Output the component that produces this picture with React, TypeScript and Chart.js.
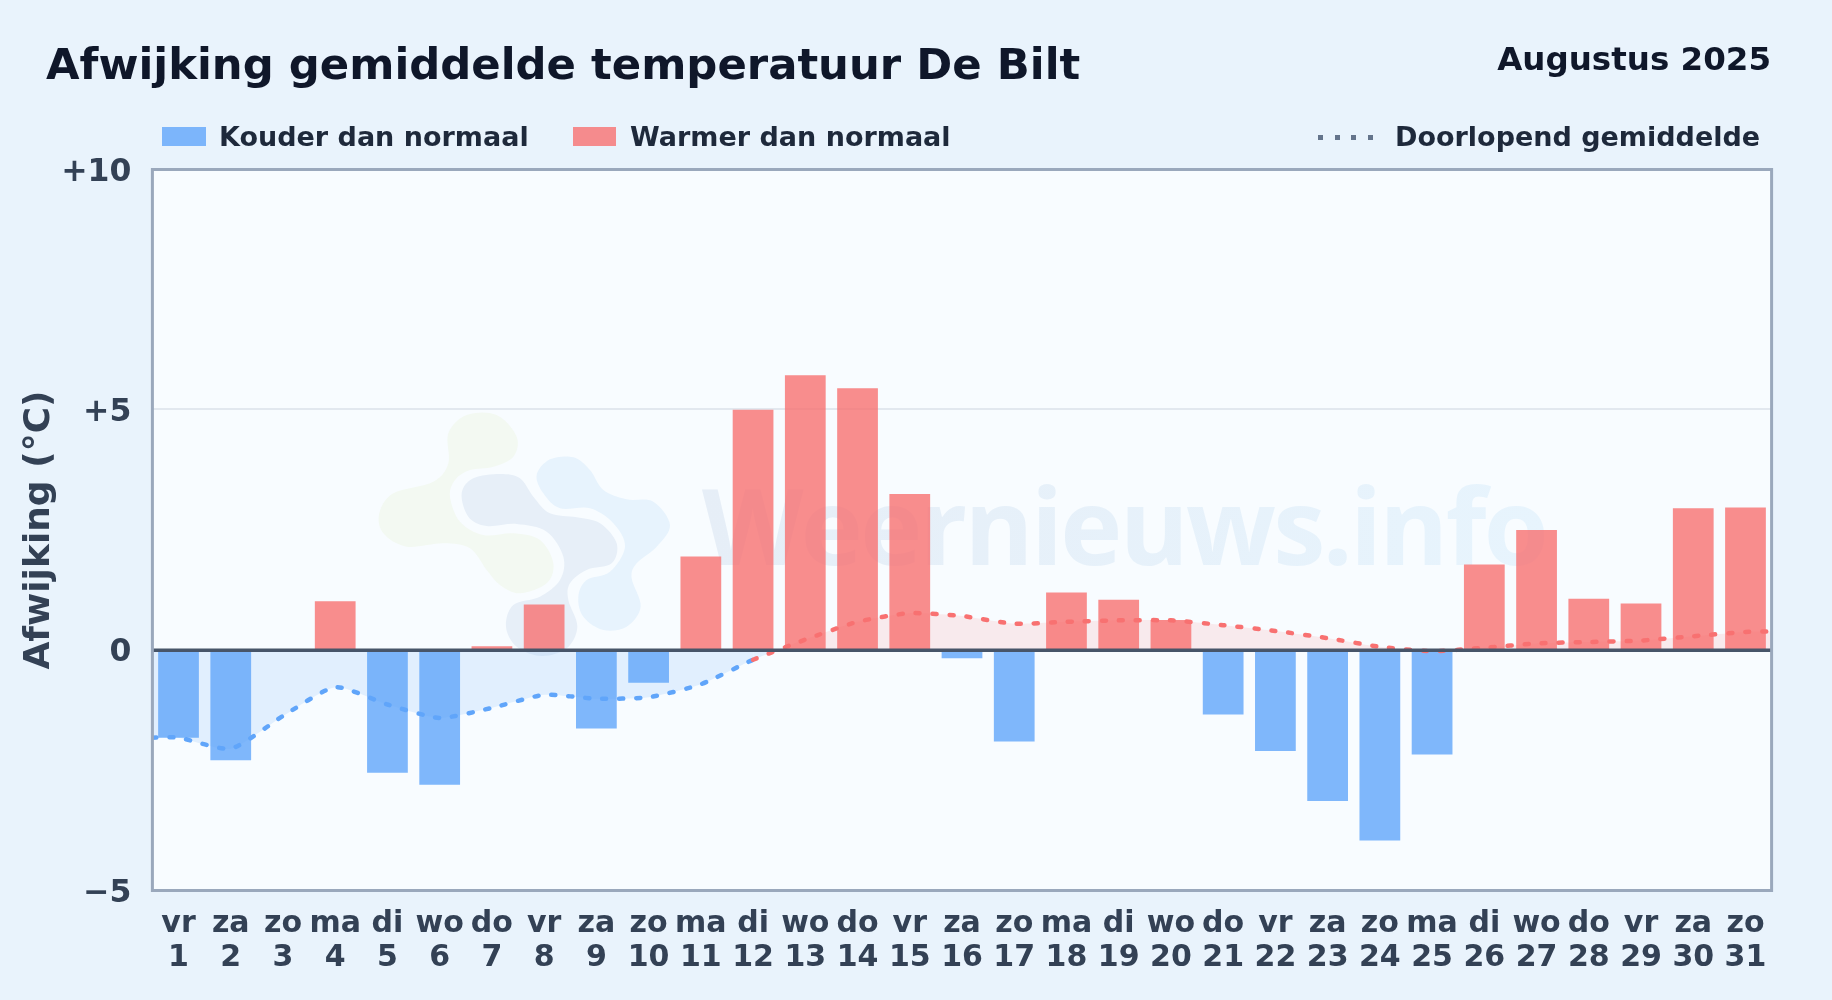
import React, { useEffect, useRef } from "react";
import { Chart, registerables } from "chart.js";

Chart.register(...registerables);

const TITLE = "Afwijking gemiddelde temperatuur De Bilt";
const MONTH = "Augustus 2025";
const COLD_LABEL = "Kouder dan normaal";
const WARM_LABEL = "Warmer dan normaal";
const MEAN_LABEL = "Doorlopend gemiddelde";
const Y_TITLE = "Afwijking (°C)";
const WATERMARK = "Weernieuws.info";

const weekdays = ["vr","za","zo","ma","di","wo","do","vr","za","zo","ma","di","wo","do","vr","za","zo","ma","di","wo","do","vr","za","zo","ma","di","wo","do","vr","za","zo"];
const days = ["1","2","3","4","5","6","7","8","9","10","11","12","13","14","15","16","17","18","19","20","21","22","23","24","25","26","27","28","29","30","31"];
const coldValues = [-1.82,-2.29,null,null,-2.55,-2.8,null,null,-1.63,-0.68,null,null,null,null,null,-0.17,-1.9,null,null,null,-1.34,-2.1,-3.14,-3.96,-2.17,null,null,null,null,null,null];
const warmValues = [null,null,0,1.02,null,null,0.08,0.95,null,null,1.95,5.0,5.72,5.45,3.25,null,null,1.2,1.05,0.63,null,null,null,null,null,1.78,2.5,1.07,0.97,2.95,2.97];
const meanPositions = [0.5,1,2,3,4,5,6,7,8,9,10,11,12,13,14,15,16,17,18,19,20,21,22,23,24,25,26,27,28,29,30,31,31.5];
const meanValues = [-1.82,-1.82,-2.05,-1.37,-0.77,-1.13,-1.41,-1.2,-0.93,-1.01,-0.98,-0.71,-0.2,0.22,0.59,0.77,0.71,0.55,0.59,0.62,0.62,0.52,0.4,0.25,0.07,-0.02,0.05,0.14,0.17,0.2,0.29,0.38,0.39];
const yTickValues = [-5, 0, 5, 10];

const FONT = '"DejaVu Sans", sans-serif';
const BLUE = "#60a5fa";
const RED = "#f87171";

const greenBlob = [[235,100],[290,45],[380,45],[440,110],[430,170],[370,200],[300,210],[255,240],[240,290],[270,365],[340,405],[430,400],[510,420],[550,490],[530,550],[450,580],[390,555],[350,510],[300,445],[220,430],[110,440],[40,400],[28,340],[70,280],[190,245],[235,190]];
const slateBlob = [[275,280],[310,235],[390,222],[450,235],[490,290],[540,340],[620,352],[690,370],[740,430],[725,490],[650,510],[600,550],[595,600],[622,680],[590,745],[515,768],[440,740],[408,680],[430,615],[510,590],[570,540],[580,470],[530,395],[440,372],[350,378],[295,350]];
const skyBlob = [[500,225],[540,178],[610,172],[660,210],[700,270],[770,298],[850,305],[900,375],[860,440],[800,490],[785,535],[812,620],[770,680],[700,690],[640,650],[625,590],[650,540],[720,515],[765,440],[730,370],[660,325],[570,325],[520,280]];

function blob(ctx: CanvasRenderingContext2D, pts: number[][], color: string) {
  const ox = 370, oy = 400, s = 1 / 3;
  const P = pts.map(([x, y]) => [ox + x * s, oy + y * s]);
  const n = P.length;
  ctx.beginPath();
  ctx.moveTo(P[0][0], P[0][1]);
  for (let i = 0; i < n; i++) {
    const a = P[(i - 1 + n) % n], b = P[i], c = P[(i + 1) % n], d = P[(i + 2) % n];
    ctx.bezierCurveTo(b[0] + (c[0] - a[0]) / 6, b[1] + (c[1] - a[1]) / 6, c[0] - (d[0] - b[0]) / 6, c[1] - (d[1] - b[1]) / 6, c[0], c[1]);
  }
  ctx.closePath();
  ctx.fillStyle = color;
  ctx.fill();
}

const backdrop = {
  id: "backdrop",
  beforeDraw(chart: any) {
    // y tick labels sit slightly below their tick in the reference
    chart.scales.y.getLabelItems(chart.chartArea).forEach((item: any) => {
      if (!item.__shifted) {
        item.__shifted = true;
        item.textOffset += 3;
      }
    });
  },
  beforeDatasetsDraw(chart: any) {
    const { ctx, chartArea: a } = chart;
    ctx.save();
    ctx.fillStyle = "#f8fcff";
    ctx.fillRect(a.left, a.top, a.width, a.height);
    const y5 = Math.floor(chart.scales.y.getPixelForValue(5));
    ctx.strokeStyle = "#e2e8ef";
    ctx.lineWidth = 2;
    ctx.beginPath();
    ctx.moveTo(a.left, y5);
    ctx.lineTo(a.right, y5);
    ctx.stroke();
    blob(ctx, greenBlob, "#f3f9f2");
    blob(ctx, slateBlob, "#e7eff8");
    blob(ctx, skyBlob, "#e7f3fd");
    const g = ctx.createLinearGradient(700, 0, 1550, 0);
    g.addColorStop(0, "#e6eef7");
    g.addColorStop(1, "#e7f4fd");
    ctx.fillStyle = g;
    ctx.font = '700 105px "Open Sans", sans-serif';
    ctx.textAlign = "left";
    ctx.textBaseline = "alphabetic";
    const w = ctx.measureText(WATERMARK).width;
    (ctx as any).letterSpacing = `${(844 - w) / WATERMARK.length}px`;
    ctx.fillText(WATERMARK, 702, 565);
    (ctx as any).letterSpacing = "0px";
    ctx.restore();
  },
  afterDatasetsDraw(chart: any) {
    const { ctx, chartArea: a } = chart;
    const y0 = chart.scales.y.getPixelForValue(0);
    ctx.save();
    ctx.strokeStyle = "#475569";
    ctx.lineWidth = 3.5;
    ctx.beginPath();
    ctx.moveTo(a.left, y0);
    ctx.lineTo(a.right, y0);
    ctx.stroke();
    ctx.strokeStyle = "#9aa8bc";
    ctx.lineWidth = 3;
    ctx.strokeRect(a.left, a.top, a.width, a.height);
    ctx.restore();
  },
};

const abs = (o: React.CSSProperties): React.CSSProperties => ({
  position: "absolute",
  fontFamily: FONT,
  fontWeight: 700,
  whiteSpace: "nowrap",
  lineHeight: 1,
  ...o,
});

export default function App() {
  const ref = useRef<HTMLCanvasElement>(null);
  useEffect(() => {
    const prevMargin = document.body.style.margin;
    document.body.style.margin = "0";
    const chart = new Chart(ref.current as HTMLCanvasElement, {
      type: "bar",
      plugins: [backdrop],
      data: {
        labels: weekdays.map((w, i) => [w, days[i]]),
        datasets: [
          {
            type: "line",
            label: MEAN_LABEL,
            xAxisID: "xMean",
            data: meanPositions.map((x, i) => ({ x, y: meanValues[i] })),
            order: 0,
            borderWidth: 4.5,
            borderColor: BLUE,
            borderDash: [4, 13],
            borderCapStyle: "round",
            pointRadius: 0,
            tension: 0.2,
            fill: { target: { value: 0 }, above: "rgba(248,113,113,0.13)", below: "rgba(96,165,250,0.15)" },
            segment: {
              borderColor: (c: any) => (c.p0.parsed.y + c.p1.parsed.y) / 2 >= 0 ? RED : BLUE,
            },
          } as any,
          { label: COLD_LABEL, data: coldValues, backgroundColor: "rgba(96,165,250,0.8)", order: 1, grouped: false, barPercentage: 0.78, categoryPercentage: 1 } as any,
          { label: WARM_LABEL, data: warmValues, backgroundColor: "rgba(248,113,113,0.8)", order: 1, grouped: false, barPercentage: 0.78, categoryPercentage: 1 } as any,
        ],
      },
      options: {
        animation: false,
        responsive: false,
        devicePixelRatio: 1,
        layout: { padding: { top: 169.5, right: 60.4, bottom: 0, left: 0 } },
        plugins: { legend: { display: false }, title: { display: false }, tooltip: { enabled: false } },
        scales: {
          x: {
            type: "category",
            offset: true,
            grid: { display: false },
            border: { display: false },
            afterFit: (s: any) => { s.height = 109.5; },
            ticks: {
              color: "#334155",
              maxRotation: 0,
              autoSkip: false,
              padding: 8.5,
              font: { family: FONT, weight: "bold", size: 30, lineHeight: 1.14 },
            },
          },
          xMean: { type: "linear", display: false, offset: false, min: 0.5, max: 31.5 },
          y: {
            min: -5,
            max: 10,
            afterFit: (s: any) => { s.width = 152.4; },
            afterBuildTicks: (s: any) => { s.ticks = yTickValues.map((value) => ({ value })); },
            grid: { display: false },
            border: { display: false },
            title: {
              display: true,
              text: Y_TITLE,
              color: "#334155",
              padding: { top: 18, bottom: 0 },
              font: { family: FONT, weight: "bold", size: 36 },
            },
            ticks: {
              color: "#334155",
              padding: 13,
              font: { family: FONT, weight: "bold", size: 31.5 },
              callback: (v: any) => (v > 0 ? `+${v}` : v < 0 ? `\u2212${Math.abs(v)}` : "0"),
            },
          },
        },
      },
    } as any);
    return () => {
      chart.destroy();
      document.body.style.margin = prevMargin;
    };
  }, []);

  const legendText = { fontSize: 27, color: "#1e293b", top: 122.5 };
  return (
    <div style={{ position: "absolute", left: 0, top: 0, width: 1832, height: 1000, background: "#e9f3fc", overflow: "hidden" }}>
      <canvas ref={ref} width={1832} height={1000} style={{ position: "absolute", left: 0, top: 0, width: 1832, height: 1000 }} />
      <div style={abs({ left: 46, top: 43, fontSize: 43.35, color: "#0f172a" })}>{TITLE}</div>
      <div style={abs({ right: 61, top: 43, fontSize: 32.5, color: "#0f172a" })}>{MONTH}</div>
      <div style={abs({ left: 162, top: 127, width: 44, height: 19, background: "rgba(96,165,250,0.8)" })} />
      <div style={abs({ left: 219, ...legendText })}>{COLD_LABEL}</div>
      <div style={abs({ left: 573, top: 127, width: 43, height: 19, background: "rgba(248,113,113,0.8)" })} />
      <div style={abs({ left: 630, ...legendText })}>{WARM_LABEL}</div>
      {[0, 1, 2, 3].map((i) => (
        <div key={i} style={abs({ left: 1318 + i * 16.6, top: 135, width: 5, height: 5, background: "#64748b" })} />
      ))}
      <div style={abs({ left: 1395, ...legendText })}>{MEAN_LABEL}</div>
    </div>
  );
}
